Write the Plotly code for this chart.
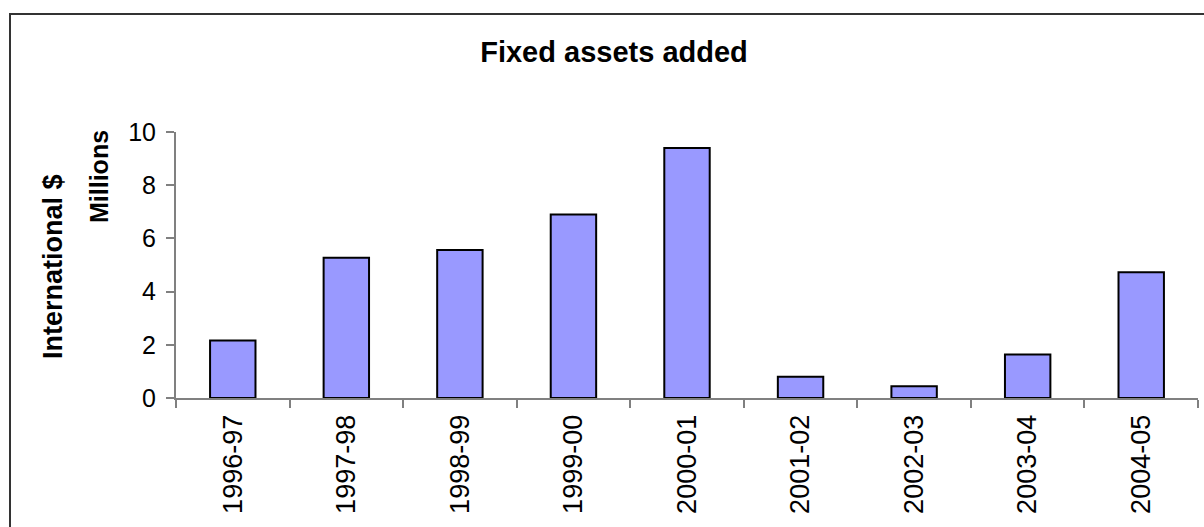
import plotly.graph_objects as go

# Financial years and fixed assets added (International $, millions)
years = ["1996-97", "1997-98", "1998-99", "1999-00", "2000-01",
         "2001-02", "2002-03", "2003-04", "2004-05"]
assets_added = [2.16, 5.27, 5.56, 6.90, 9.40, 0.80, 0.44, 1.64, 4.73]
y_ticks = [0, 2, 4, 6, 8, 10]

FONT = "Arial, Liberation Sans, sans-serif"

# plot area placement (pixels)
W, H = 1204, 527
L, R, T, B = 176, 6, 132, 129
pw, ph = W - L - R, H - T - B


def px_x(x):
    return (x - L) / pw


def px_y(y):
    return (H - B - y) / ph


fig = go.Figure(
    go.Bar(
        x=years,
        y=assets_added,
        marker=dict(color="#9999FF", line=dict(color="#000000", width=2)),
        width=0.4,
    )
)

fig.update_layout(
    width=W,
    height=H,
    margin=dict(l=L, r=R, t=T, b=B),
    paper_bgcolor="white",
    plot_bgcolor="white",
    showlegend=False,
    font=dict(family=FONT, color="#000000"),
    title=dict(
        text="<b>Fixed assets added</b>",
        x=614 / W,
        xanchor="center",
        y=1 - 52 / H,
        yanchor="middle",
        font=dict(family=FONT, size=29, color="#000000"),
    ),
    xaxis=dict(
        type="category",
        range=[-0.5, 8.5],
        tickson="boundaries",
        ticks="outside",
        ticklen=8,
        tickwidth=2,
        tickcolor="#808080",
        showline=True,
        linecolor="#808080",
        linewidth=2,
        showgrid=False,
        tickangle=-90,
        tickfont=dict(family=FONT, size=27, color="#000000"),
        ticklabelstandoff=4,
    ),
    yaxis=dict(
        range=[0, 10],
        tickvals=y_ticks,
        ticks="outside",
        ticklen=8,
        tickwidth=2,
        tickcolor="#808080",
        showline=True,
        linecolor="#808080",
        linewidth=2,
        showgrid=False,
        zeroline=False,
        tickfont=dict(family=FONT, size=25, color="#000000"),
        ticklabelstandoff=5,
    ),
    shapes=[
        # outer chart frame running off the right and bottom edges
        dict(
            type="rect",
            xref="paper",
            yref="paper",
            x0=px_x(10),
            x1=px_x(W + 20),
            y0=px_y(H + 20),
            y1=px_y(14),
            line=dict(color="#333333", width=2),
            fillcolor="rgba(0,0,0,0)",
            layer="below",
        )
    ],
    annotations=[
        dict(
            text="<b>International $</b>",
            xref="paper",
            yref="paper",
            x=px_x(53),
            y=px_y(267),
            textangle=-90,
            showarrow=False,
            xanchor="center",
            yanchor="middle",
            font=dict(family=FONT, size=27, color="#000000"),
        ),
        dict(
            text="<b>Millions</b>",
            xref="paper",
            yref="paper",
            x=px_x(99),
            y=px_y(177),
            textangle=-90,
            showarrow=False,
            xanchor="center",
            yanchor="middle",
            font=dict(family=FONT, size=25, color="#000000"),
        ),
    ],
)

fig.write_html("out.html")
